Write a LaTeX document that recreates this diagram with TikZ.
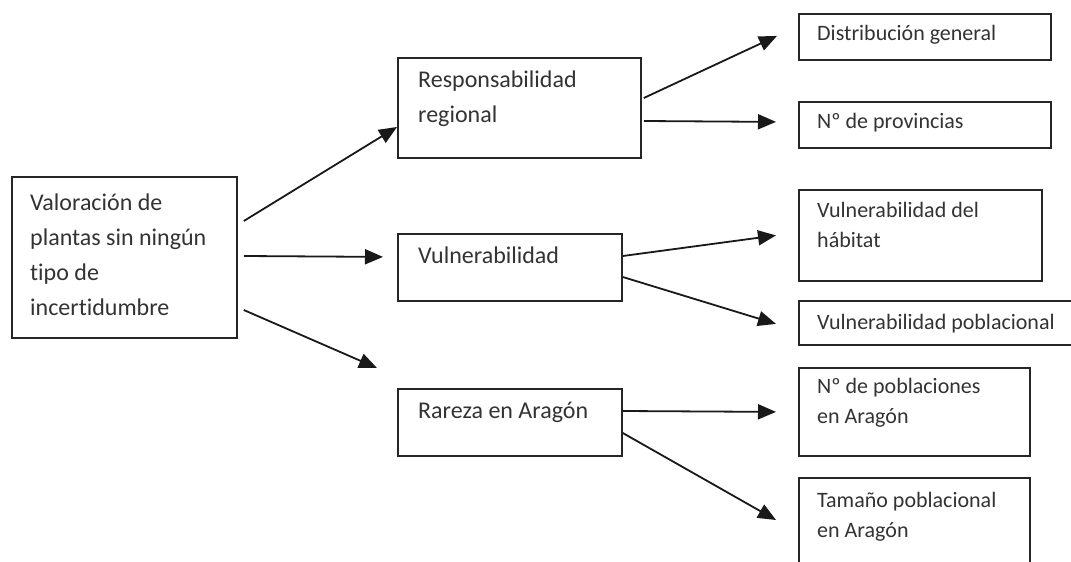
\documentclass[tikz,border=0pt]{standalone}
\usepackage{fontspec}
\setmainfont{Carlito}[RawFeature={-liga;-dlig;-clig}]
\usetikzlibrary{arrows.meta,calc}
\tikzset{
  box/.style={draw=black!85, line width=1.8pt, rectangle, inner sep=0pt, anchor=north west},
  bigtxt/.style={anchor=base west, inner sep=0pt, text=black!80, font=\fontsize{24}{35}\selectfont},
  smalltxt/.style={anchor=base west, inner sep=0pt, text=black!80, font=\fontsize{22}{30.5}\selectfont},
  arr/.style={line width=1.8pt, draw=black!90, -{Triangle[length=18pt,width=15pt]}},
}
\newcommand{\ml}[1]{\begin{tabular}[t]{@{}l@{}}#1\end{tabular}}
\begin{document}
\begin{tikzpicture}[x=1pt,y=-1pt]
\useasboundingbox (0,0) rectangle (1071,562);
\clip (0,0) rectangle (1071,562);
\fill[white] (0,0) rectangle (1071,562);
% boxes
\node[box, minimum width=225, minimum height=161] (main) at (11,176) {};
\node[box, minimum width=243, minimum height=100] (resp) at (397,57) {};
\node[box, minimum width=224, minimum height=67] (vuln) at (397,233) {};
\node[box, minimum width=224, minimum height=67] (rar) at (397,388) {};
\node[box, minimum width=252, minimum height=46] (dist) at (798,13) {};
\node[box, minimum width=252, minimum height=46] (prov) at (798,101) {};
\node[box, minimum width=243, minimum height=91] (hab) at (798,189) {};
\node[box, minimum width=280, minimum height=44] (pob) at (798,300) {};
\node[box, minimum width=231, minimum height=88] (npob) at (798,367) {};
\node[box, minimum width=231, minimum height=100] (tam) at (798,477) {};
% texts
\node[bigtxt] (maint) at (30,210) {\ml{Valoración de\\plantas sin ningún\\tipo de\\incertidumbre}};
\node[bigtxt] (respt) at (418,87) {\ml{Responsabilidad\\regional}};
\node[bigtxt] (vulnt) at (418,263) {Vulnerabilidad};
\node[bigtxt] (rart) at (418,418) {Rareza en Aragón};
\node[smalltxt] (distt) at (817,40) {Distribución general};
\node[smalltxt] (provt) at (817,128) {Nº de provincias};
\node[smalltxt] (habt) at (817,217) {\ml{Vulnerabilidad del\\hábitat}};
\node[smalltxt] (pobt) at (817,329) {Vulnerabilidad poblacional};
\node[smalltxt] (npobt) at (817,393) {\ml{Nº de poblaciones\\en Aragón}};
\node[smalltxt] (tamt) at (817,507) {\ml{Tamaño poblacional\\en Aragón}};
% arrow end points
\coordinate (eresp) at ($(resp.north west)+(0,70)$);
\coordinate (evuln) at ($(vuln.west)+(-14,-10.5)$);
\coordinate (erar) at ($(rar.north west)+(-20,-20)$);
\coordinate (edist) at ($(dist.west)+(-21,-1)$);
\coordinate (eprov) at ($(prov.west)+(-22,-3)$);
\coordinate (ehab) at ($(hab.west)+(-22,0)$);
\coordinate (epob) at ($(pob.west)+(-22,1)$);
\coordinate (enpob) at ($(npob.west)+(-22,0)$);
\coordinate (etam) at ($(tam.north west)+(-22,43)$);
% arrows
\draw[arr] ($(main.north east)+(6,45)$) -- (eresp);
\draw[arr] ($(main.north east)+(6,80)$) -- (evuln);
\draw[arr] ($(main.north east)+(6,134)$) -- (erar);
\draw[arr] ($(resp.north east)+(2,41)$) -- (edist);
\draw[arr] ($(resp.north east)+(2,64)$) -- (eprov);
\draw[arr] ($(vuln.north east)+(0,23)$) -- (ehab);
\draw[arr] ($(vuln.north east)+(0,44)$) -- (epob);
\draw[arr] ($(rar.north east)+(0,23)$) -- (enpob);
\draw[arr] ($(rar.north east)+(0,45)$) -- (etam);
\end{tikzpicture}
\end{document}
